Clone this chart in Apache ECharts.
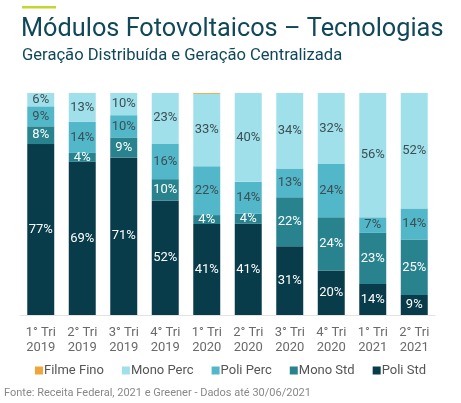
<!DOCTYPE html>
<html>
<head>
<meta charset="utf-8">
<script src="https://cdn.jsdelivr.net/npm/echarts@6/dist/echarts.min.js"></script>
<style>
  html, body { margin: 0; padding: 0; background: #fff; }
  #chart { width: 461px; height: 403px; }
</style>
</head>
<body>
<div id="chart"></div>
<script>
var categories = ["1° Tri\n2019", "2° Tri\n2019", "3° Tri\n2019", "4° Tri\n2019", "1° Tri\n2020",
  "2° Tri\n2020", "3° Tri\n2020", "4° Tri\n2020", "1° Tri\n2021", "2° Tri\n2021"];
var poliStd = [77, 69, 71, 51.6, 41, 41.2, 31, 20, 14, 9];
var monoStd = [8, 4, 9, 9.6, 4, 4.4, 22, 24, 23, 25];
var poliPerc = [9, 14, 10, 16.1, 22, 14.4, 13, 24, 7, 14];
var monoPerc = [6, 13, 10, 22.7, 32.6, 40, 34, 32, 56, 52];
var filmeFino = [0, 0, 0, 0, 0.4, 0, 0, 0, 0, 0];

var colors = {
  filme: "#f0a53a",
  monoPerc: "#a0e0ea",
  poliPerc: "#52b8c9",
  monoStd: "#28838f",
  poliStd: "#083c4a"
};

function makeSeries(name, data, color, labelColor) {
  return {
    name: name,
    type: "bar",
    stack: "total",
    barWidth: "65%",
    data: data,
    itemStyle: { color: color },
    label: {
      show: labelColor !== null,
      position: "inside",
      color: labelColor || "#fff",
      fontSize: 13,
      fontFamily: "Roboto",
      formatter: function (p) {
        return p.value > 0 ? Math.round(p.value) + "%" : "";
      }
    }
  };
}

var chart = echarts.init(document.getElementById("chart"));
chart.setOption({
  animation: false,
  textStyle: { fontFamily: "Roboto" },
  grid: { left: 20, right: 26, top: 93, bottom: 88 },
  legend: {
    data: ["Filme Fino", "Mono Perc", "Poli Perc", "Mono Std", "Poli Std"],
    bottom: 21,
    left: "center",
    itemWidth: 8,
    itemHeight: 8,
    itemGap: 18,
    icon: "rect",
    textStyle: { color: "#555", fontSize: 13, padding: [0, 0, 0, -4] }
  },
  xAxis: {
    type: "category",
    data: categories,
    axisTick: { show: false },
    axisLine: { lineStyle: { color: "#e3e3e3" } },
    axisLabel: { color: "#6a6a6a", fontSize: 13, lineHeight: 15, margin: 10 }
  },
  yAxis: { type: "value", min: 0, max: 100, show: false },
  graphic: [
    { type: "rect", left: 22, top: 6, shape: { width: 34, height: 2.5 }, style: { fill: "#c6d631" } },
    { type: "text", left: 21, top: 17, style: { text: "Módulos Fotovoltaicos – Tecnologias", fill: "#10485a", font: "25.3px Roboto" } },
    { type: "text", left: 22, top: 47, style: { text: "Geração Distribuída e Geração Centralizada", fill: "#10485a", font: "16.6px Roboto" } },
    { type: "text", left: 4, top: 388, style: { text: "Fonte: Receita Federal, 2021 e Greener - Dados até 30/06/2021", fill: "#888", font: "11px Roboto" } }
  ],
  series: [
    makeSeries("Poli Std", poliStd, colors.poliStd, "#fff"),
    makeSeries("Mono Std", monoStd, colors.monoStd, "#fff"),
    makeSeries("Poli Perc", poliPerc, colors.poliPerc, "#3c4f55"),
    makeSeries("Mono Perc", monoPerc, colors.monoPerc, "#3c4f55"),
    makeSeries("Filme Fino", filmeFino, colors.filme, null)
  ]
});
</script>
</body>
</html>
